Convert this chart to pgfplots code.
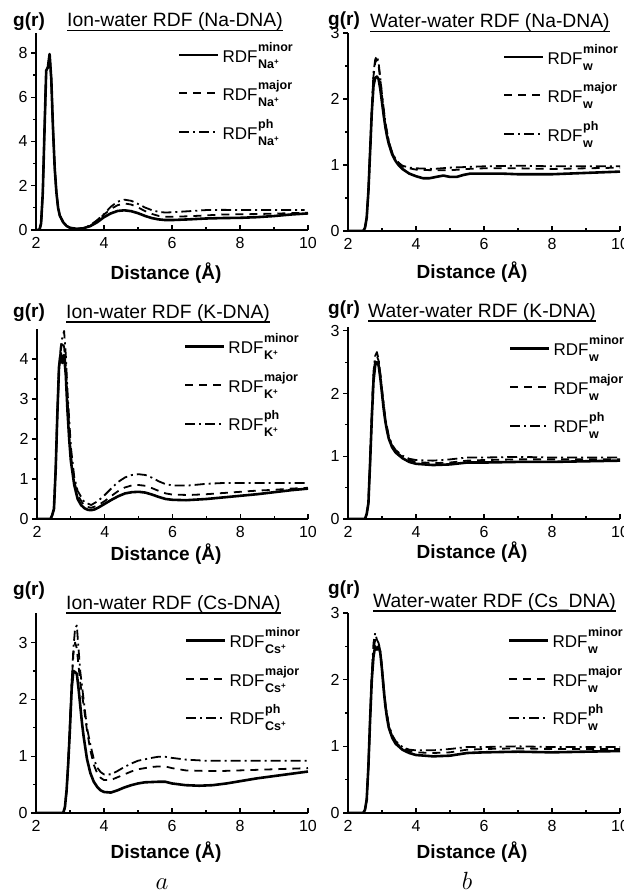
\documentclass[border=0pt]{standalone}
\usepackage{pgfplots}
\pgfplotsset{compat=1.18}
\usepackage{fontspec}
\setmainfont{Liberation Sans}

\newcommand\scr{\fontsize{12.5}{12.5}\selectfont\bfseries}
\newcommand\ion[1]{#1\raisebox{4pt}{\fontsize{8}{8}\selectfont\bfseries +}}
\newcommand\rdf[2]{{\fontsize{17}{17}\selectfont RDF}\kern0.6pt\rlap{\raisebox{11pt}{\scr #1}}\raisebox{-6pt}{\scr #2}}
\newcommand\ul[1]{\setbox0\hbox{#1}\rlap{\rule[-4.5pt]{\wd0}{1.1pt}}\box0}
\newcommand\gfont{\fontsize{19}{19}\selectfont\bfseries}
\newcommand\tfont{\fontsize{19.3}{19}\selectfont}

\pgfplotsset{
  rdfpanel/.style={
    scale only axis, width=272pt,
    xmin=2, xmax=10, ymin=0,
    axis lines=left, axis line style={-, line width=1.5pt},
    xtick={2,4,6,8,10}, minor x tick num=1, minor y tick num=1,
    xtick align=inside, ytick align=outside,
    major tick length=5pt, minor tick length=3pt,
    tick style={line width=1.2pt, black},
    /pgf/number format/assume math mode=true,
    ticklabel style={font=\fontsize{16}{16}\selectfont},
    xticklabel style={yshift=-4pt},
    legend style={draw=none, fill=none, inner sep=0pt, outer sep=0pt,
      row sep=0pt, column sep=3pt, anchor=north west,
      font=\fontsize{17}{17}\selectfont,
      nodes={inner sep=0pt, text height=26.5pt, text depth=12pt}},
    legend cell align=left,
    legend image code/.code={\draw[##1] (0pt,0pt) -- (39pt,0pt);},
  },
  minorline/.style={black, line width=2.6pt, line join=round},
  majorline/.style={black, line width=1.8pt, dash pattern=on 8pt off 6pt, line join=round},
  phline/.style={black, line width=1.8pt, dash pattern=on 10pt off 4pt on 2pt off 4pt, line join=round},
}

\begin{document}
\begin{tikzpicture}
\useasboundingbox (0,0) rectangle (623pt,-893pt);

% ---------- Na: ion-water ----------
\begin{axis}[rdfpanel, at={(36pt,-230pt)}, anchor=south west, height=197pt,
  ymax=8.9, ytick={0,2,4,6,8},
  legend style={at={(0.522,0.987)}}]
\addplot[minorline] coordinates {(2.0,0) (2.1,0) (2.15,0.3) (2.2,1.7) (2.25,4.5) (2.3,7.2) (2.35,7.35) (2.4,7.95) (2.45,6.8) (2.5,4.6) (2.55,2.8) (2.6,1.7) (2.65,1.0) (2.7,0.65) (2.8,0.35) (2.9,0.18) (3.0,0.1) (3.2,0.05) (3.4,0.08) (3.6,0.18) (3.8,0.35) (4.0,0.58) (4.2,0.75) (4.4,0.86) (4.6,0.89) (4.8,0.85) (5.0,0.76) (5.2,0.64) (5.4,0.54) (5.6,0.48) (5.8,0.45) (6.0,0.45) (6.5,0.48) (7.0,0.52) (7.5,0.54) (8.0,0.55) (8.5,0.58) (9.0,0.63) (9.5,0.7) (10.0,0.75)};
\addlegendentry{\rdf{minor}{\ion{Na}}}
\addplot[majorline] coordinates {(2.0,0) (2.1,0) (2.15,0.3) (2.2,1.7) (2.25,4.5) (2.3,7.2) (2.35,7.35) (2.4,7.9) (2.45,6.8) (2.5,4.6) (2.55,2.8) (2.6,1.7) (2.65,1.0) (2.7,0.65) (2.8,0.35) (2.9,0.18) (3.0,0.1) (3.2,0.05) (3.4,0.08) (3.6,0.2) (3.8,0.4) (4.0,0.7) (4.2,0.95) (4.4,1.12) (4.6,1.2) (4.8,1.15) (5.0,1.02) (5.2,0.86) (5.4,0.73) (5.6,0.64) (5.8,0.6) (6.0,0.6) (6.5,0.62) (7.0,0.66) (7.5,0.7) (8.0,0.71) (8.5,0.72) (9.0,0.74) (9.5,0.76) (10.0,0.78)};
\addlegendentry{\rdf{major}{\ion{Na}}}
\addplot[phline] coordinates {(2.0,0) (2.1,0) (2.15,0.3) (2.2,1.7) (2.25,4.5) (2.3,7.2) (2.35,7.35) (2.4,7.9) (2.45,6.8) (2.5,4.6) (2.55,2.8) (2.6,1.7) (2.65,1.0) (2.7,0.65) (2.8,0.35) (2.9,0.18) (3.0,0.1) (3.2,0.05) (3.4,0.08) (3.6,0.22) (3.8,0.45) (4.0,0.72) (4.2,1.05) (4.4,1.28) (4.6,1.37) (4.8,1.32) (5.0,1.18) (5.2,1.02) (5.4,0.9) (5.6,0.82) (5.8,0.79) (6.0,0.8) (6.5,0.85) (7.0,0.9) (7.5,0.91) (8.0,0.9) (8.5,0.9) (9.0,0.9) (9.5,0.9) (9.9,0.9)};
\addlegendentry{\rdf{ph}{\ion{Na}}}
\end{axis}

% ---------- Na: water-water ----------
\begin{axis}[rdfpanel, at={(348pt,-231pt)}, anchor=south west, height=198pt,
  ymax=3, ytick={0,1,2,3},
  legend style={at={(0.570,0.977)}}]
\addplot[minorline] coordinates {(2.0,0) (2.45,0) (2.5,0.05) (2.55,0.2) (2.6,0.6) (2.65,1.2) (2.7,1.8) (2.75,2.2) (2.8,2.32) (2.85,2.34) (2.9,2.3) (2.95,2.15) (3.0,1.95) (3.05,1.75) (3.1,1.57) (3.15,1.43) (3.2,1.32) (3.3,1.16) (3.4,1.06) (3.5,0.99) (3.6,0.94) (3.8,0.87) (4.0,0.83) (4.2,0.8) (4.4,0.8) (4.6,0.82) (4.8,0.84) (5.0,0.82) (5.2,0.82) (5.4,0.85) (5.6,0.87) (6.0,0.87) (6.5,0.87) (7.0,0.86) (7.5,0.86) (8.0,0.86) (8.5,0.87) (9.0,0.88) (9.5,0.89) (10.0,0.9)};
\addlegendentry{\rdf{minor}{w}}
\addplot[majorline] coordinates {(2.0,0) (2.45,0) (2.5,0.05) (2.55,0.2) (2.6,0.6) (2.65,1.2) (2.7,1.85) (2.75,2.35) (2.8,2.55) (2.85,2.6) (2.9,2.5) (2.95,2.3) (3.0,2.05) (3.1,1.62) (3.2,1.35) (3.3,1.18) (3.4,1.08) (3.5,1.02) (3.6,0.98) (3.8,0.95) (4.0,0.93) (4.5,0.92) (5.0,0.92) (5.5,0.94) (6.0,0.95) (7.0,0.95) (8.0,0.94) (9.0,0.95) (10.0,0.96)};
\addlegendentry{\rdf{major}{w}}
\addplot[phline] coordinates {(2.0,0) (2.45,0) (2.5,0.05) (2.55,0.2) (2.6,0.6) (2.65,1.2) (2.7,1.85) (2.75,2.4) (2.8,2.6) (2.85,2.65) (2.9,2.55) (2.95,2.32) (3.0,2.07) (3.1,1.64) (3.2,1.36) (3.3,1.19) (3.4,1.09) (3.5,1.03) (3.6,0.99) (3.8,0.96) (4.0,0.95) (4.5,0.94) (5.0,0.96) (5.5,0.97) (6.0,0.98) (7.0,0.99) (8.0,0.98) (9.0,0.98) (10.0,0.98)};
\addlegendentry{\rdf{ph}{w}}
\end{axis}

% ---------- K: ion-water ----------
\begin{axis}[rdfpanel, at={(37pt,-519pt)}, anchor=south west, width=271pt, height=190pt,
  ymax=4.75, ytick={0,1,2,3,4},
  legend style={at={(0.542,1.008)}}]
\addplot[minorline] coordinates {(2.0,0) (2.4,0) (2.45,0.1) (2.5,0.25) (2.55,1.2) (2.6,2.6) (2.65,3.8) (2.7,4.15) (2.75,3.9) (2.8,4.1) (2.85,3.6) (2.9,2.7) (2.95,2.0) (3.0,1.45) (3.1,0.85) (3.2,0.5) (3.3,0.35) (3.4,0.27) (3.5,0.23) (3.6,0.22) (3.7,0.24) (3.8,0.28) (4.0,0.38) (4.2,0.48) (4.4,0.57) (4.6,0.64) (4.8,0.67) (5.0,0.68) (5.2,0.66) (5.4,0.61) (5.6,0.55) (5.8,0.5) (6.0,0.48) (6.4,0.47) (7.0,0.5) (7.5,0.54) (8.0,0.58) (8.5,0.62) (9.0,0.67) (9.5,0.72) (10.0,0.76)};
\addlegendentry{\rdf{minor}{\ion{K}}}
\addplot[majorline] coordinates {(2.0,0) (2.4,0) (2.45,0.1) (2.5,0.25) (2.55,1.2) (2.6,2.6) (2.65,3.8) (2.7,4.2) (2.75,4.45) (2.8,4.3) (2.85,3.8) (2.9,3.0) (3.0,1.6) (3.1,0.95) (3.2,0.6) (3.4,0.32) (3.6,0.28) (3.8,0.34) (4.0,0.45) (4.2,0.58) (4.4,0.7) (4.6,0.79) (4.8,0.84) (5.0,0.85) (5.2,0.83) (5.4,0.77) (5.6,0.7) (5.8,0.64) (6.0,0.61) (6.5,0.6) (7.0,0.62) (7.5,0.65) (8.0,0.68) (8.5,0.71) (9.0,0.73) (9.5,0.76) (10.0,0.78)};
\addlegendentry{\rdf{major}{\ion{K}}}
\addplot[phline] coordinates {(2.0,0) (2.4,0) (2.45,0.1) (2.5,0.25) (2.55,1.2) (2.6,2.6) (2.65,3.8) (2.7,4.3) (2.75,4.55) (2.8,4.7) (2.85,4.1) (2.9,3.2) (3.0,1.8) (3.1,1.05) (3.2,0.7) (3.4,0.42) (3.6,0.35) (3.8,0.45) (4.0,0.6) (4.2,0.77) (4.4,0.93) (4.6,1.04) (4.8,1.1) (5.0,1.12) (5.2,1.1) (5.4,1.03) (5.6,0.94) (5.8,0.87) (6.0,0.84) (6.5,0.84) (7.0,0.88) (7.5,0.9) (8.0,0.9) (9.0,0.9) (10.0,0.9)};
\addlegendentry{\rdf{ph}{\ion{K}}}
\end{axis}

% ---------- K: water-water ----------
\begin{axis}[rdfpanel, at={(348pt,-519pt)}, anchor=south west, height=192pt,
  ymax=3.06, ytick={0,1,2,3},
  legend style={at={(0.592,0.987)}}]
\addplot[minorline] coordinates {(2.0,0) (2.5,0) (2.55,0.08) (2.6,0.25) (2.65,0.9) (2.7,1.6) (2.75,2.2) (2.8,2.45) (2.85,2.5) (2.9,2.45) (2.95,2.25) (3.0,2.0) (3.05,1.75) (3.1,1.55) (3.15,1.4) (3.2,1.28) (3.3,1.14) (3.4,1.06) (3.6,0.97) (3.8,0.91) (4.0,0.88) (4.5,0.86) (5.0,0.87) (5.5,0.9) (6.0,0.9) (7.0,0.91) (8.0,0.91) (9.0,0.92) (10.0,0.93)};
\addlegendentry{\rdf{minor}{w}}
\addplot[majorline] coordinates {(2.0,0) (2.5,0) (2.55,0.08) (2.6,0.25) (2.65,0.9) (2.7,1.7) (2.75,2.3) (2.8,2.55) (2.85,2.6) (2.9,2.52) (2.95,2.3) (3.0,2.05) (3.1,1.58) (3.2,1.3) (3.3,1.16) (3.4,1.08) (3.6,0.99) (3.8,0.94) (4.0,0.91) (4.5,0.89) (5.0,0.9) (5.5,0.93) (6.0,0.94) (7.0,0.95) (8.0,0.95) (9.0,0.95) (10.0,0.95)};
\addlegendentry{\rdf{major}{w}}
\addplot[phline] coordinates {(2.0,0) (2.5,0) (2.55,0.08) (2.6,0.25) (2.65,0.9) (2.7,1.7) (2.75,2.35) (2.8,2.6) (2.85,2.66) (2.9,2.55) (2.95,2.32) (3.0,2.07) (3.1,1.6) (3.2,1.32) (3.3,1.18) (3.4,1.1) (3.6,1.01) (3.8,0.96) (4.0,0.94) (4.5,0.93) (5.0,0.95) (5.5,0.98) (6.0,0.98) (7.0,0.99) (8.0,0.98) (9.0,0.98) (10.0,0.98)};
\addlegendentry{\rdf{ph}{w}}
\end{axis}

% ---------- Cs: ion-water ----------
\begin{axis}[rdfpanel, at={(36pt,-813pt)}, anchor=south west, height=200pt,
  ymax=3.52, ytick={0,1,2,3},
  legend style={at={(0.548,0.958)}}]
\addplot[minorline] coordinates {(2.0,0) (2.8,0) (2.85,0.1) (2.9,0.4) (2.95,0.9) (3.0,1.5) (3.05,2.2) (3.1,2.5) (3.15,2.48) (3.2,2.45) (3.25,2.2) (3.3,1.9) (3.35,1.6) (3.4,1.35) (3.5,0.95) (3.6,0.7) (3.7,0.55) (3.8,0.46) (3.9,0.4) (4.0,0.37) (4.2,0.36) (4.4,0.4) (4.6,0.45) (4.8,0.49) (5.0,0.52) (5.2,0.54) (5.6,0.55) (5.8,0.55) (6.0,0.52) (6.4,0.49) (6.8,0.48) (7.2,0.49) (7.6,0.52) (8.0,0.56) (8.5,0.61) (9.0,0.65) (9.5,0.69) (10.0,0.73)};
\addlegendentry{\rdf{minor}{\ion{Cs}}}
\addplot[majorline] coordinates {(2.0,0) (2.8,0) (2.85,0.1) (2.9,0.4) (2.95,0.9) (3.0,1.6) (3.05,2.3) (3.1,2.8) (3.15,3.0) (3.2,2.9) (3.25,2.6) (3.3,2.3) (3.4,1.9) (3.5,1.45) (3.6,1.1) (3.7,0.85) (3.8,0.7) (3.9,0.62) (4.0,0.58) (4.2,0.58) (4.4,0.63) (4.6,0.68) (4.8,0.73) (5.0,0.77) (5.4,0.81) (5.6,0.82) (5.8,0.82) (6.0,0.79) (6.4,0.75) (7.0,0.74) (7.5,0.74) (8.0,0.75) (9.0,0.77) (10.0,0.79)};
\addlegendentry{\rdf{major}{\ion{Cs}}}
\addplot[phline] coordinates {(2.0,0) (2.8,0) (2.85,0.1) (2.9,0.4) (2.95,0.9) (3.0,1.6) (3.05,2.3) (3.1,2.9) (3.15,3.25) (3.2,3.3) (3.25,2.9) (3.3,2.5) (3.4,2.0) (3.5,1.5) (3.6,1.2) (3.7,0.95) (3.8,0.8) (3.9,0.72) (4.0,0.68) (4.2,0.68) (4.4,0.74) (4.6,0.81) (4.8,0.87) (5.0,0.92) (5.4,0.97) (5.6,0.99) (5.8,0.99) (6.0,0.97) (6.4,0.94) (7.0,0.92) (8.0,0.92) (9.0,0.92) (10.0,0.92)};
\addlegendentry{\rdf{ph}{\ion{Cs}}}
\end{axis}

% ---------- Cs: water-water ----------
\begin{axis}[rdfpanel, at={(348pt,-813pt)}, anchor=south west, height=200pt,
  ymax=3, ytick={0,1,2,3},
  legend style={at={(0.588,0.958)}}]
\addplot[minorline] coordinates {(2.0,0) (2.45,0) (2.5,0.05) (2.55,0.2) (2.6,0.7) (2.65,1.4) (2.7,2.0) (2.75,2.35) (2.8,2.5) (2.85,2.45) (2.9,2.5) (2.95,2.4) (3.0,2.15) (3.05,1.85) (3.1,1.6) (3.15,1.42) (3.2,1.28) (3.3,1.13) (3.4,1.04) (3.6,0.95) (3.8,0.9) (4.0,0.87) (4.5,0.85) (5.0,0.86) (5.5,0.9) (6.0,0.91) (7.0,0.92) (8.0,0.91) (9.0,0.92) (10.0,0.93)};
\addlegendentry{\rdf{minor}{w}}
\addplot[majorline] coordinates {(2.0,0) (2.45,0) (2.5,0.05) (2.55,0.2) (2.6,0.7) (2.65,1.4) (2.7,2.05) (2.75,2.45) (2.8,2.6) (2.85,2.55) (2.9,2.55) (2.95,2.42) (3.0,2.17) (3.1,1.62) (3.2,1.3) (3.3,1.15) (3.4,1.06) (3.6,0.97) (3.8,0.93) (4.0,0.91) (4.5,0.9) (5.0,0.91) (5.5,0.95) (6.0,0.96) (7.0,0.97) (8.0,0.96) (9.0,0.96) (10.0,0.96)};
\addlegendentry{\rdf{major}{w}}
\addplot[phline] coordinates {(2.0,0) (2.45,0) (2.5,0.05) (2.55,0.2) (2.6,0.7) (2.65,1.4) (2.7,2.1) (2.75,2.55) (2.8,2.7) (2.85,2.6) (2.9,2.55) (2.95,2.43) (3.0,2.18) (3.1,1.64) (3.2,1.32) (3.3,1.17) (3.4,1.08) (3.6,0.99) (3.8,0.95) (4.0,0.94) (4.5,0.94) (5.0,0.96) (5.5,0.99) (6.0,0.99) (7.0,1.0) (8.0,0.99) (9.0,0.99) (10.0,0.99)};
\addlegendentry{\rdf{ph}{w}}
\end{axis}

% ---------- labels ----------
\node[anchor=base west, inner sep=0pt, font=\gfont] at (13pt,-27pt) {g(r)};
\node[anchor=base west, inner sep=0pt, font=\tfont] at (67pt,-27pt) {\ul{Ion-water RDF (Na-DNA)}};
\node[anchor=base west, inner sep=0pt, font=\gfont] at (328pt,-26pt) {g(r)};
\node[anchor=base west, inner sep=0pt, font=\tfont] at (370pt,-28pt) {\ul{Water-water RDF (Na-DNA)}};
\node[anchor=base, inner sep=0pt, font=\gfont] at (166pt,-279pt) {Distance (Å)};
\node[anchor=base, inner sep=0pt, font=\gfont] at (472pt,-278pt) {Distance (Å)};

\node[anchor=base west, inner sep=0pt, font=\gfont] at (13pt,-317pt) {g(r)};
\node[anchor=base west, inner sep=0pt, font=\tfont] at (66pt,-318pt) {\ul{Ion-water RDF (K-DNA)}};
\node[anchor=base west, inner sep=0pt, font=\gfont] at (328pt,-314pt) {g(r)};
\node[anchor=base west, inner sep=0pt, font=\tfont] at (368pt,-317pt) {\ul{Water-water RDF (K-DNA)}};
\node[anchor=base, inner sep=0pt, font=\gfont] at (166pt,-560pt) {Distance (Å)};
\node[anchor=base, inner sep=0pt, font=\gfont] at (472pt,-558pt) {Distance (Å)};

\node[anchor=base west, inner sep=0pt, font=\gfont] at (13pt,-595pt) {g(r)};
\node[anchor=base west, inner sep=0pt, font=\tfont] at (66pt,-609pt) {\ul{Ion-water RDF (Cs-DNA)}};
\node[anchor=base west, inner sep=0pt, font=\gfont] at (328pt,-594pt) {g(r)};
\node[anchor=base west, inner sep=0pt, font=\tfont] at (373pt,-607pt) {\ul{Water-water RDF (Cs\_DNA)}};
\node[anchor=base, inner sep=0pt, font=\gfont] at (166pt,-858pt) {Distance (Å)};
\node[anchor=base, inner sep=0pt, font=\gfont] at (472pt,-858pt) {Distance (Å)};

\node[anchor=base, inner sep=0pt, font=\fontsize{24}{24}\selectfont] at (162pt,-889pt) {$a$};
\node[anchor=base, inner sep=0pt, font=\fontsize{24}{24}\selectfont] at (467pt,-889pt) {$b$};
\end{tikzpicture}
\end{document}
